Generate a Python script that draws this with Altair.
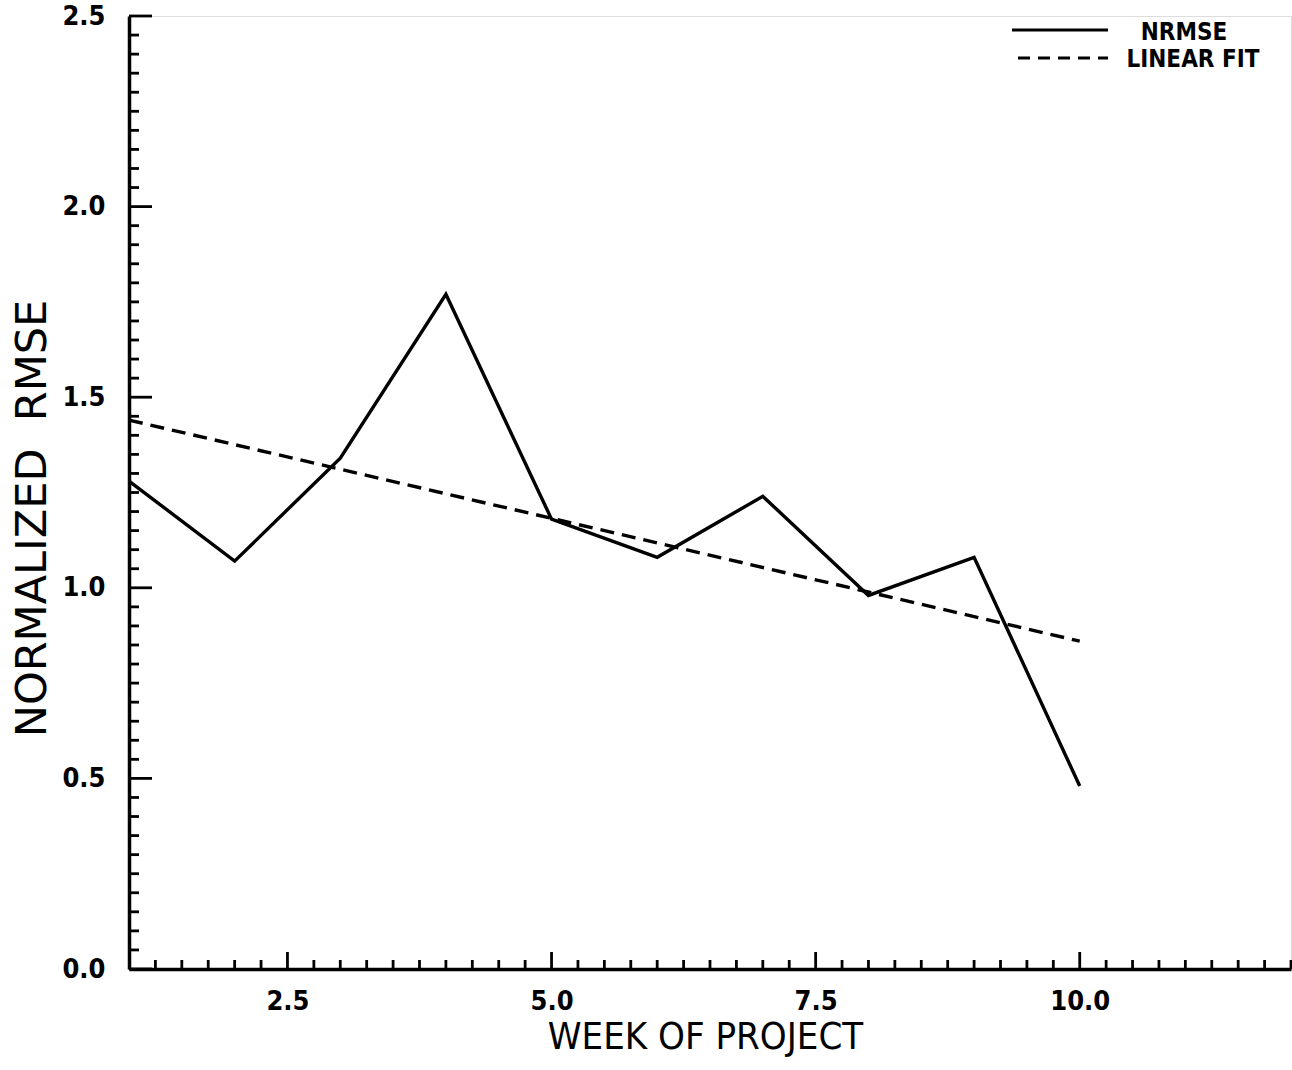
import altair as alt
import pandas as pd
import numpy as np

# ---- data ----
weeks = [1, 2, 3, 4, 5, 6, 7, 8, 9, 10]
nrmse = [1.28, 1.07, 1.34, 1.77, 1.18, 1.08, 1.24, 0.98, 1.08, 0.48]
fit_weeks = [1, 10]
fit_vals = [1.44, 0.86]

x_major = [2.5, 5.0, 7.5, 10.0]
y_major = [0.0, 0.5, 1.0, 1.5, 2.0, 2.5]
x_minor = [round(v, 2) for v in np.arange(1.25, 12.001, 0.25) if round(v, 2) not in x_major]
y_minor = [round(v, 2) for v in np.arange(0.05, 2.4501, 0.05) if round(v, 2) not in y_major]

legend_labels = ["NRMSE", "LINEAR FIT"]

W, H = 1162, 953
NARROW = "Liberation Sans Narrow, DejaVu Sans Condensed, Roboto Condensed, Liberation Sans, sans-serif"

df = pd.DataFrame({"week": weeks, "val": nrmse})
dfit = pd.DataFrame({"week": fit_weeks, "val": fit_vals})

xs = alt.Scale(domain=[1, 12], nice=False, zero=False)
ys = alt.Scale(domain=[0, 2.5], nice=False, zero=False)

x_axis = alt.Axis(
    values=x_major, format=".1f", ticks=False, tickSize=0, grid=False,
    domainWidth=3.5, domainColor="black", labelFont=NARROW, labelFontWeight="bold",
    labelFontSize=27, labelColor="black", labelPadding=19,
    title="WEEK OF PROJECT", titleFont=NARROW, titleFontWeight="normal",
    titleFontSize=38, titleColor="black", titleX=576, titleY=79,
    titleAlign="center", titleBaseline="alphabetic",
)
y_axis = alt.Axis(
    values=y_major, format=".1f", ticks=False, tickSize=0, grid=False,
    domainWidth=3.5, domainColor="black", labelFont=NARROW, labelFontWeight="bold",
    labelFontSize=27, labelColor="black", labelPadding=24,
    title="NORMALIZED\u00a0\u00a0RMSE", titleFont="DejaVu Sans", titleFontWeight="normal",
    titleFontSize=43, titleColor="black", titleX=-97, titleY=502,
    titleAngle=-90, titleAlign="center", titleBaseline="middle",
)

line = alt.Chart(df).mark_line(color="black", strokeWidth=3.4).encode(
    x=alt.X("week:Q", scale=xs, axis=x_axis),
    y=alt.Y("val:Q", scale=ys, axis=y_axis),
)
fit = alt.Chart(dfit).mark_line(color="black", strokeWidth=3.4, strokeDash=[14, 8]).encode(
    x=alt.X("week:Q", scale=xs),
    y=alt.Y("val:Q", scale=ys),
)

xmin_t = alt.Chart(pd.DataFrame({"t": x_minor})).mark_rule(color="black", strokeWidth=2.8).encode(
    x=alt.X("t:Q", scale=xs), y=alt.value(H), y2=alt.value(H - 9))
xmaj_t = alt.Chart(pd.DataFrame({"t": x_major})).mark_rule(color="black", strokeWidth=2.8).encode(
    x=alt.X("t:Q", scale=xs), y=alt.value(H), y2=alt.value(H - 17))
ymin_t = alt.Chart(pd.DataFrame({"t": y_minor})).mark_rule(color="black", strokeWidth=2.8).encode(
    y=alt.Y("t:Q", scale=ys), x=alt.value(0), x2=alt.value(10))
ymaj_t = alt.Chart(pd.DataFrame({"t": y_major})).mark_rule(color="black", strokeWidth=2.8).encode(
    y=alt.Y("t:Q", scale=ys), x=alt.value(0), x2=alt.value(23))

# legend drawn manually
leg_df = pd.DataFrame({"label": legend_labels})
leg_solid = alt.Chart(leg_df.iloc[[0]]).mark_rule(color="black", strokeWidth=2.8).encode(
    x=alt.value(883), x2=alt.value(979), y=alt.value(14))
leg_dash = alt.Chart(leg_df.iloc[[1]]).mark_rule(color="black", strokeWidth=2.8, strokeDash=[12, 8]).encode(
    x=alt.value(889), x2=alt.value(979), y=alt.value(42))
leg_t1 = alt.Chart(leg_df.iloc[[0]]).mark_text(
    font=NARROW, fontWeight="bold", fontSize=24, color="black", align="center", baseline="middle"
).encode(text="label:N", x=alt.value(1055), y=alt.value(17))
leg_t2 = alt.Chart(leg_df.iloc[[1]]).mark_text(
    font=NARROW, fontWeight="bold", fontSize=24, color="black", align="center", baseline="middle"
).encode(text="label:N", x=alt.value(1064), y=alt.value(44))

chart = alt.layer(
    line, fit, xmin_t, xmaj_t, ymin_t, ymaj_t, leg_solid, leg_dash, leg_t1, leg_t2
).properties(
    width=W, height=H,
    autosize=alt.AutoSizeParams(type="none"),
    padding={"left": 129, "top": 16, "right": 1, "bottom": 101},
).configure_view(stroke=None).configure(background="white")

chart.save("out.html", embed_options={"renderer": "svg", "actions": False})
